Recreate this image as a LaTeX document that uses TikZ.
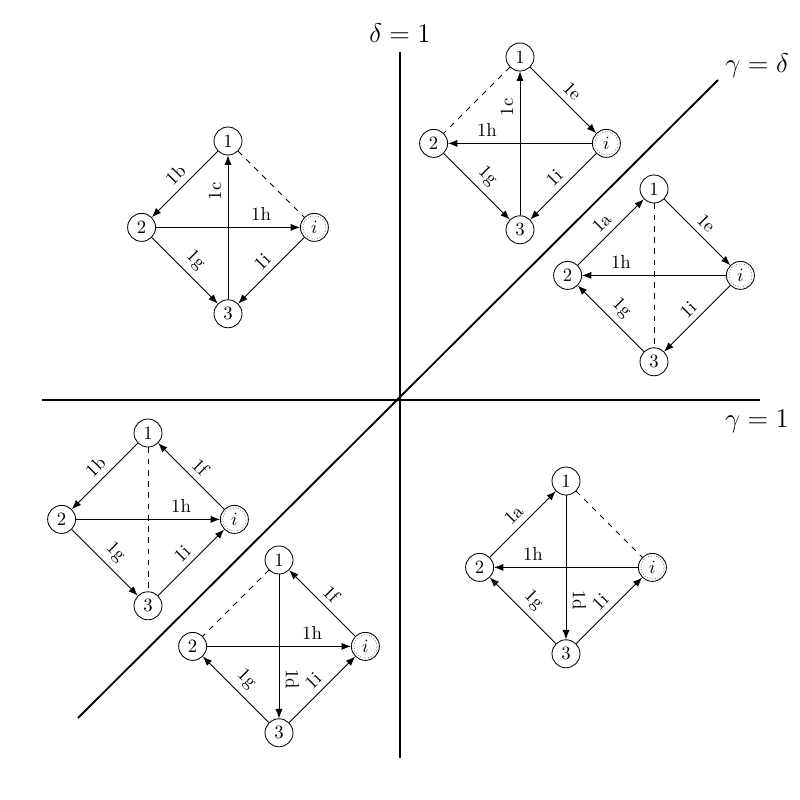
\documentclass[tikz,border=0pt]{standalone}
\usetikzlibrary{%
  arrows.meta,%
  positioning% wg. " of "
}

\begin{document}
\begin{tikzpicture}[x=0.01875cm,y=-0.01875cm,>={Latex[length=5pt,width=3.8pt]},line width=0.45pt]
       \tikzset{vertex/.style={circle, draw, minimum size=0.525cm, inner sep=1pt}}

       \tikzset{inode/.style={vertex, path picture={\draw[densely dotted, gray]
                (path picture bounding box.center) circle (6.2pt);}}}

       \tikzset{lbl/.style={sloped, above}}
       \tikzset{axis/.style={line width=1pt}}
       \tikzset{on grid, node distance=1.62cm and 1.62cm}

       \useasboundingbox (0,0) rectangle (800,800);

        % axes
        \coordinate (dtop) at (400,52);
        \coordinate (dbot) at (400,758);
        \coordinate (gleft) at (42,400);
        \coordinate (gright) at (760,400);
        \coordinate (diaglow) at (78,718);
        \coordinate (diaghigh) at (718,80);
        \node[font=\Large] (dlab) at (400,33) {$\delta=1$};
        \node[font=\Large] (gdlab) at (757,66) {$\gamma=\delta$};
        \node[font=\Large] (glab) at (757,421) {$\gamma=1$};
        \draw[axis] (dtop) -- (dbot);
        \draw[axis] (gleft) -- (gright);
        \draw[axis] (diaglow) -- (diaghigh);

        % upper left
        \node[vertex] (a1) at (228,141) {1};
        \node[vertex, below left=of a1] (a2) {2};
        \node[inode, below right=of a1] (ai) {$i$};
        \node[vertex, below right=of a2] (a3) {3};
        \draw[->] (a1) -- node[lbl] {1b} (a2);
        \draw[dashed] (a1) -- (ai);
        \draw[->] (a2) -- node[lbl, pos=0.73] {1h} (ai);
        \draw[->] (a3) -- node[lbl, pos=0.75] {1c} (a1);
        \draw[->] (a2) -- node[lbl] {1g} (a3);
        \draw[->] (ai) -- node[lbl] {1i} (a3);

        % upper middle
        \node[vertex] (b1) at (520,57) {1};
        \node[vertex, below left=of b1] (b2) {2};
        \node[inode, below right=of b1] (bi) {$i$};
        \node[vertex, below right=of b2] (b3) {3};
        \draw[dashed] (b1) -- (b2);
        \draw[->] (b1) -- node[lbl] {1e} (bi);
        \draw[->] (bi) -- node[lbl, pos=0.73] {1h} (b2);
        \draw[->] (b3) -- node[lbl, pos=0.75] {1c} (b1);
        \draw[->] (b2) -- node[lbl] {1g} (b3);
        \draw[->] (bi) -- node[lbl] {1i} (b3);

        % right
        \node[vertex] (c1) at (654,189) {1};
        \node[vertex, below left=of c1] (c2) {2};
        \node[inode, below right=of c1] (ci) {$i$};
        \node[vertex, below right=of c2] (c3) {3};
        \draw[->] (c2) -- node[lbl] {1a} (c1);
        \draw[->] (c1) -- node[lbl] {1e} (ci);
        \draw[->] (ci) -- node[lbl, pos=0.73] {1h} (c2);
        \draw[dashed] (c1) -- (c3);
        \draw[->] (c3) -- node[lbl] {1g} (c2);
        \draw[->] (ci) -- node[lbl] {1i} (c3);

        % lower left
        \node[vertex] (d1) at (148,433) {1};
        \node[vertex, below left=of d1] (d2) {2};
        \node[inode, below right=of d1] (di) {$i$};
        \node[vertex, below right=of d2] (d3) {3};
        \draw[->] (d1) -- node[lbl] {1b} (d2);
        \draw[->] (di) -- node[lbl] {1f} (d1);
        \draw[->] (d2) -- node[lbl, pos=0.73] {1h} (di);
        \draw[dashed] (d1) -- (d3);
        \draw[->] (d2) -- node[lbl] {1g} (d3);
        \draw[->] (d3) -- node[lbl] {1i} (di);

        % lower middle
        \node[vertex] (e1) at (279,560) {1};
        \node[vertex, below left=of e1] (e2) {2};
        \node[inode, below right=of e1] (ei) {$i$};
        \node[vertex, below right=of e2] (e3) {3};
        \draw[dashed] (e1) -- (e2);
        \draw[->] (ei) -- node[lbl] {1f} (e1);
        \draw[->] (e2) -- node[lbl, pos=0.73] {1h} (ei);
        \draw[->] (e1) -- node[lbl, pos=0.73] {1d} (e3);
        \draw[->] (e3) -- node[lbl] {1g} (e2);
        \draw[->] (e3) -- node[lbl] {1i} (ei);

        % lower right
        \node[vertex] (f1) at (566,481) {1};
        \node[vertex, below left=of f1] (f2) {2};
        \node[inode, below right=of f1] (fi) {$i$};
        \node[vertex, below right=of f2] (f3) {3};
        \draw[->] (f2) -- node[lbl] {1a} (f1);
        \draw[dashed] (f1) -- (fi);
        \draw[->] (fi) -- node[lbl, pos=0.73] {1h} (f2);
        \draw[->] (f1) -- node[lbl, pos=0.73] {1d} (f3);
        \draw[->] (f3) -- node[lbl] {1g} (f2);
        \draw[->] (f3) -- node[lbl] {1i} (fi);

\end{tikzpicture}
\end{document}
